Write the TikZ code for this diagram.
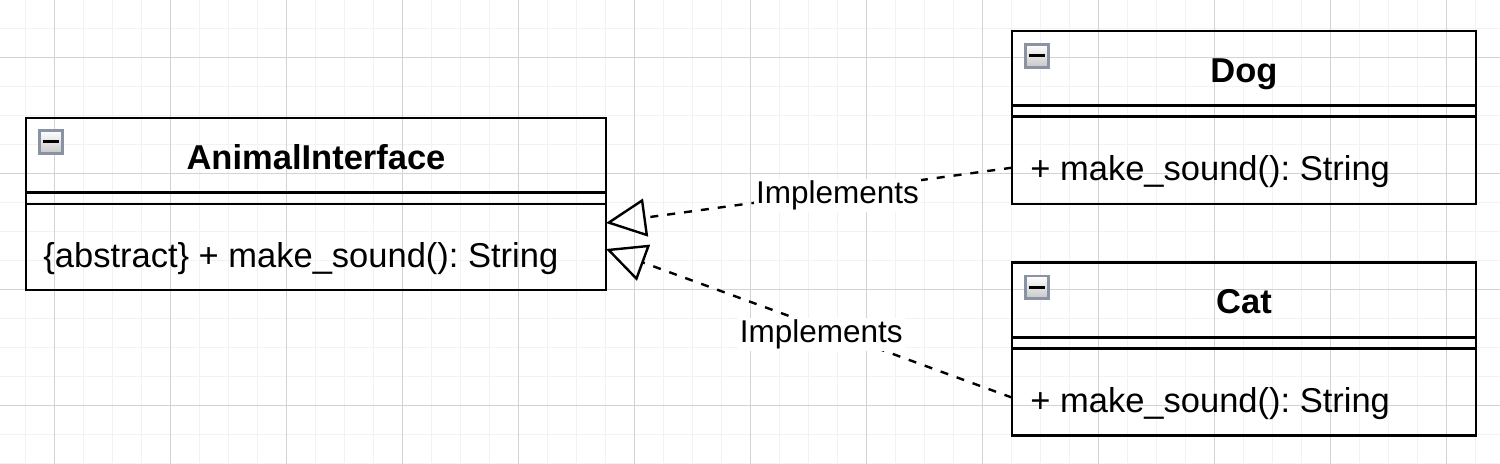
\documentclass[tikz,border=0pt]{standalone}
\usepackage{fontspec}
\setmainfont{Liberation Sans}
\usetikzlibrary{positioning,arrows.meta}
\frenchspacing

\definecolor{minorgrid}{HTML}{F2F2F2}
\definecolor{majorgrid}{HTML}{D3D3D3}
\definecolor{iconframe}{HTML}{8A93A3}
\newcommand{\classfont}{\fontsize{17.25}{20}\selectfont}
\newcommand{\edgefont}{\fontsize{15.75}{18}\selectfont}

\tikzset{
  classhead/.style={draw,line width=1.2pt,rectangle,minimum width=#1,minimum height=37.35pt,
    inner sep=0pt,outer sep=0pt,text height=13.85pt,text depth=0pt,font=\classfont\bfseries},
  compart/.style={draw,line width=1.2pt,rectangle,minimum width=#1,inner sep=0pt,outer sep=0pt},
  optext/.style={anchor=west,inner sep=0pt,font=\classfont},
  foldicon/.style={draw=iconframe,line width=1.4pt,top color=white,bottom color=black!22,
    minimum size=11.4pt,inner sep=0pt},
  implements/.style={dashed,dash pattern=on 4pt off 4.5pt,line width=1.2pt,
    -{Triangle[open,length=20pt,width=19pt]}},
  edgelabel/.style={fill=white,inner sep=1pt,font=\edgefont}
}

\begin{document}
\begin{tikzpicture}[x=0.5pt,y=0.5pt]
	\useasboundingbox (0,0) rectangle (1500,464);
	\fill[white] (0,0) rectangle (1500,464);
	% background grid
	\begin{scope}
		\clip (0,0) rectangle (1500,464);
		\draw[minorgrid,line width=0.5pt,shift={(-3.7,0.7)}] (-30,-30) grid[step=14.5pt] (1560,500);
		\draw[majorgrid,line width=0.5pt,shift={(-61.7,-57.3)}] (-30,-30) grid[step=58pt] (1680,640);
	\end{scope}

	% AnimalInterface
	\node[classhead=290pt,anchor=north west] (animal) at (26,346) {AnimalInterface};
	\node[compart=290pt,minimum height=5.65pt,below=0pt of animal] (animalattr) {};
	\node[compart=290pt,minimum height=43pt,below=0pt of animalattr] (animalops) {};
	\node[optext] (animalsig) at ([xshift=8.5pt,yshift=-6pt]animalops.west)
		{\{abstract\} + make\_sound(): String};
	\node[foldicon] (animalicon) at ([xshift=12.4pt,yshift=-11.9pt]animal.north west) {\rule{8pt}{1.35pt}};

	% Dog
	\node[classhead=232pt,anchor=north west] (dog) at (1012,433) {Dog};
	\node[compart=232pt,minimum height=5.5pt,below=0pt of dog] (dogattr) {};
	\node[compart=232pt,minimum height=43.8pt,below=0pt of dogattr] (dogops) {};
	\node[optext] (dogsig) at ([xshift=9pt,yshift=-5.75pt]dogops.west) {+ make\_sound(): String};
	\node[foldicon] (dogicon) at ([xshift=12.5pt,yshift=-12.4pt]dog.north west) {\rule{8pt}{1.35pt}};

	% Cat
	\node[classhead=232pt,anchor=north west] (cat) at (1012,201.3) {Cat};
	\node[compart=232pt,minimum height=5.65pt,below=0pt of cat] (catattr) {};
	\node[compart=232pt,minimum height=43.5pt,below=0pt of catattr] (catops) {};
	\node[optext] (catsig) at ([xshift=9pt,yshift=-5.5pt]catops.west) {+ make\_sound(): String};
	\node[foldicon] (caticon) at ([xshift=12.5pt,yshift=-12.4pt]cat.north west) {\rule{8pt}{1.35pt}};

	% connector ends
	\coordinate (dogfrom) at ([yshift=-3.6pt]dogops.west);
	\coordinate (catfrom) at ([yshift=-2.7pt]catops.west);
	\coordinate (animalto1) at ([yshift=12pt]animalops.east);
	\coordinate (animalto2) at ([yshift=-1pt]animalops.east);

	\draw[implements] (dogfrom) -- node[edgelabel,pos=0.43,yshift=-2pt] (doglabel) {Implements} (animalto1);
	\draw[implements] (catfrom) -- node[edgelabel,pos=0.47,yshift=-3.5pt] (catlabel) {Implements} (animalto2);
\end{tikzpicture}
\end{document}
